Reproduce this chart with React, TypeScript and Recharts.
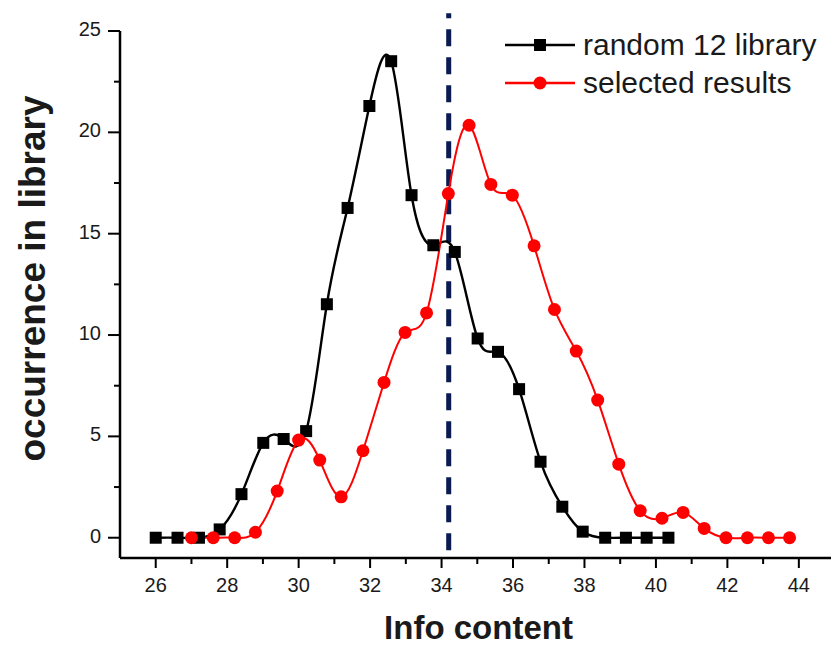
import React from "react";
import { LineChart, Line, XAxis, YAxis, ReferenceLine, Legend, Label } from "recharts";

// random 12 library histogram (info content bin centres, counts)
const randomX = [26.0, 26.61, 27.21, 27.79, 28.4, 29.01, 29.58, 30.21, 30.79, 31.37, 31.98, 32.59, 33.16, 33.77, 34.37, 35.01, 35.58, 36.17, 36.77, 37.38, 37.95, 38.58, 39.16, 39.74, 40.35];
const randomY = [0, 0, 0, 0.41, 2.15, 4.68, 4.87, 5.26, 11.52, 16.27, 21.3, 23.51, 16.9, 14.43, 14.1, 9.83, 9.17, 7.33, 3.75, 1.53, 0.3, 0, 0, 0, 0];

// selected results histogram
const selectedX = [27.0, 27.61, 28.21, 28.79, 29.4, 30.0, 30.59, 31.19, 31.8, 32.39, 32.98, 33.58, 34.19, 34.77, 35.38, 35.98, 36.59, 37.16, 37.77, 38.37, 38.96, 39.56, 40.17, 40.76, 41.35, 41.96, 42.56, 43.15, 43.74];
const selectedY = [0, 0, 0, 0.27, 2.3, 4.82, 3.83, 2.02, 4.29, 7.66, 10.13, 11.09, 16.98, 20.35, 17.43, 16.9, 14.4, 11.26, 9.21, 6.79, 3.63, 1.33, 0.96, 1.25, 0.46, 0, 0, 0, 0];

const xTicks = [26, 27, 28, 29, 30, 31, 32, 33, 34, 35, 36, 37, 38, 39, 40, 41, 42, 43, 44];
const yTicks = [0, 2.5, 5, 7.5, 10, 12.5, 15, 17.5, 20, 22.5, 25];
const cutoff = 34.2;

const randomData = randomX.map((x, i) => ({ x, y: randomY[i] }));
const selectedData = selectedX.map((x, i) => ({ x, y: selectedY[i] }));

const FONT = '"Liberation Sans", Arial, sans-serif';

function XTick(props: any) {
  const { x, y, payload } = props;
  const major = payload.value % 2 === 0;
  return (
    <g>
      <line x1={x} x2={x} y1={y} y2={y + (major ? 10 : 6)} stroke="#000" strokeWidth={2} />
      {major && (
        <text x={x} y={y + 34} textAnchor="middle" fontSize={20} fill="#1a1a1a" fontFamily={FONT}>
          {payload.value}
        </text>
      )}
    </g>
  );
}

function YTick(props: any) {
  const { x, y, payload } = props;
  const major = payload.value % 5 === 0;
  return (
    <g>
      <line x1={x - (major ? 12 : 6)} x2={x} y1={y} y2={y} stroke="#000" strokeWidth={2} />
      {major && (
        <text x={x - 19} y={y + 5} textAnchor="end" fontSize={20} fill="#1a1a1a" fontFamily={FONT}>
          {payload.value}
        </text>
      )}
    </g>
  );
}

const square = (p: any) => (
  <rect key={p.index} x={p.cx - 6} y={p.cy - 6} width={12} height={12} fill="#000" />
);
const circle = (p: any) => (
  <circle key={p.index} cx={p.cx} cy={p.cy} r={6.5} fill="#ff0000" />
);

function LegendBox(props: any) {
  const { payload } = props;
  return (
    <div style={{ fontFamily: FONT, fontSize: 30, color: "#1a1a1a" }}>
      {(payload || []).map((p: any, i: number) => (
        <div key={i} style={{ display: "flex", alignItems: "center", height: 38, whiteSpace: "nowrap" }}>
          <svg width={78} height={38}>
            <line x1={0} x2={70} y1={19} y2={19} stroke={p.color} strokeWidth={2.5} />
            {i === 0 ? (
              <rect x={29} y={13} width={12} height={12} fill={p.color} />
            ) : (
              <circle cx={35} cy={19} r={6.5} fill={p.color} />
            )}
          </svg>
          <span>{p.value}</span>
        </div>
      ))}
    </div>
  );
}

export default function App() {
  return (
    <div style={{ position: "absolute", left: 0, top: 0, background: "#fff" }}>
      <LineChart width={833} height={645} margin={{ top: 31, right: 2, left: 0, bottom: 47 }}>
        <XAxis
          dataKey="x"
          type="number"
          domain={[25, 44.9]}
          ticks={xTicks}
          interval={0}
          allowDataOverflow
          tick={<XTick />}
          tickLine={false}
          tickSize={0}
          tickMargin={0}
          height={40}
          axisLine={{ stroke: "#000", strokeWidth: 2.5 }}
        >
          <Label
            content={(lp: any) => {
              const vb = lp.viewBox || { x: 120, y: 558, width: 711 };
              return (
                <text x={vb.x + vb.width / 2 + 3} y={vb.y + 81} textAnchor="middle" fontSize={33} fontWeight="bold" fill="#1a1a1a" fontFamily={FONT}>
                  Info content
                </text>
              );
            }}
          />
        </XAxis>
        <YAxis
          type="number"
          domain={[-1, 25]}
          ticks={yTicks}
          interval={0}
          tick={<YTick />}
          tickLine={false}
          tickSize={0}
          tickMargin={0}
          width={120}
          axisLine={{ stroke: "#000", strokeWidth: 2.5 }}
        >
          <Label
            content={(lp: any) => {
              const vb = lp.viewBox || { x: 0, y: 31, width: 120, height: 527 };
              const cx = vb.x + 45;
              const cy = vb.y + vb.height / 2 - 16;
              return (
                <text x={cx} y={cy} transform={`rotate(-90, ${cx}, ${cy})`} textAnchor="middle" fontSize={37} fontWeight="bold" fill="#1a1a1a" fontFamily={FONT}>
                  occurrence in library
                </text>
              );
            }}
          />
        </YAxis>
        <ReferenceLine
          segment={[{ x: cutoff, y: 25.87 }, { x: cutoff, y: -1.1 }]}
          stroke="#0b1a50"
          strokeWidth={5}
          strokeDasharray="17 11"
          strokeDashoffset={12}
          ifOverflow="visible"
        />
        <Line
          data={randomData}
          dataKey="y"
          name="random 12 library"
          type="natural"
          stroke="#000"
          strokeWidth={2.4}
          dot={square}
          activeDot={false}
          isAnimationActive={false}
        />
        <Line
          data={selectedData}
          dataKey="y"
          name="selected results"
          type="natural"
          stroke="#ff0000"
          strokeWidth={2}
          dot={circle}
          activeDot={false}
          isAnimationActive={false}
        />
        <Legend
          layout="vertical"
          align="center"
          verticalAlign="middle"
          content={<LegendBox />}
          wrapperStyle={{ left: 505, top: 26, width: 328 }}
        />
      </LineChart>
    </div>
  );
}
